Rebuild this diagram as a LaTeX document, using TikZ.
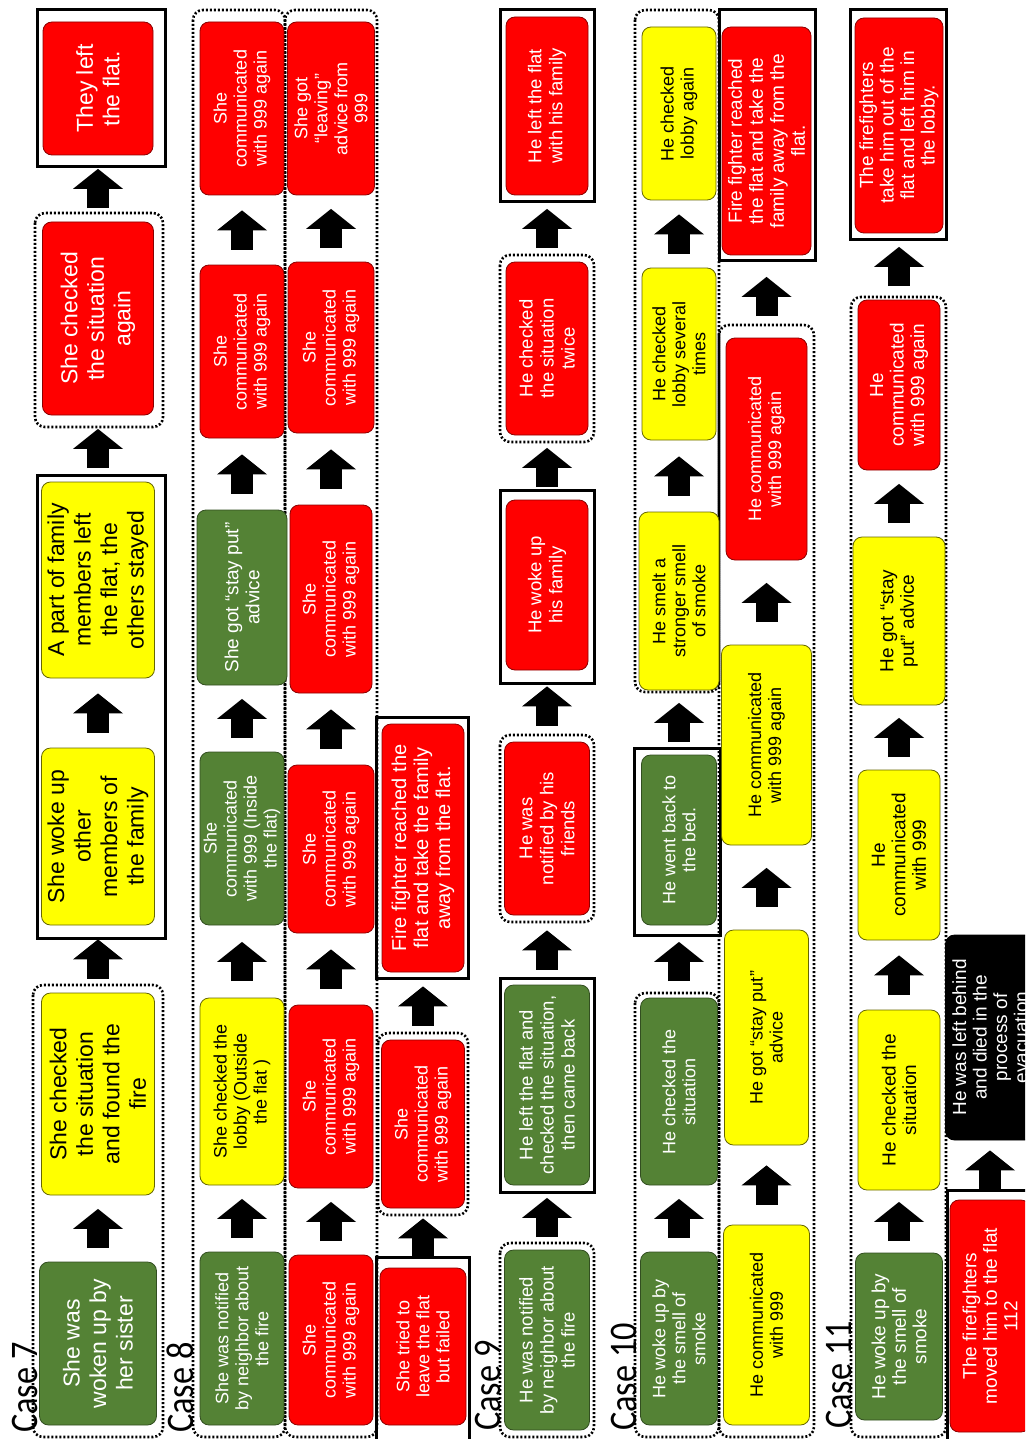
\documentclass[tikz,border=0pt]{standalone}
\usepackage{fontspec}
\setmainfont{Liberation Sans}
\newfontfamily\caseface{Carlito}[FakeStretch=0.88]
\usetikzlibrary{arrows.meta}
\definecolor{evred}{HTML}{FF0000}
\definecolor{evyel}{HTML}{FFFF00}
\definecolor{evgrn}{HTML}{548235}
\tikzset{
  ev/.style     = {rectangle, rounded corners=9pt, rotate=90, align=center,
                   inner sep=2pt, line width=0.8pt},
  redev/.style  = {ev, draw=evred!55!black, fill=evred, text=white},
  yelev/.style  = {ev, draw=evyel!40!black, fill=evyel, text=black},
  grnev/.style  = {ev, draw=evgrn!60!black, fill=evgrn, text=white},
  blkev/.style  = {ev, draw=black, fill=black, text=white},
  sz/.style 2 args = {minimum width=#1, minimum height=#2},
  t7/.style     = {font=\fontsize{23}{26.5}\selectfont},
  t8/.style     = {font=\fontsize{18}{20}\selectfont},
  t9/.style     = {font=\fontsize{18.5}{21}\selectfont},
  t10/.style    = {font=\fontsize{18}{20}\selectfont},
  t11/.style    = {font=\fontsize{19}{20.5}\selectfont},
  flow/.style   = {line width=22pt, draw=black,
                   -{Triangle[width=50pt 0 0, length=20pt 0 0, line width=0pt 0 0]},
                   shorten <=#1, shorten >=#1},
  flow/.default = 14,
  dotgrp/.style = {line width=2.6pt, dash pattern=on 2pt off 2pt, rounded corners=10pt},
  solgrp/.style = {line width=3pt},
  caselbl/.style= {rotate=90, anchor=base west, inner sep=0pt,
                   font=\caseface\fontsize{39}{39}\selectfont},
}

\begin{document}
\begin{tikzpicture}[x=1pt, y=-1pt]
  \useasboundingbox (0,0) rectangle (1025,1439);
  \fill[white] (0,0) rectangle (1025,1439);
  \clip (0,0) rectangle (1025,1439);

  % group frames
  \draw[dotgrp] (33,985)  rectangle (163,1437);
  \draw[solgrp] (37,475)  rectangle (165,938);
  \draw[dotgrp] (35,213)  rectangle (163,427);
  \draw[solgrp] (37,10)   rectangle (165,167);
  \draw[dotgrp] (193,10)  rectangle (285,1437);
  \draw[dotgrp] (285,10)  rectangle (377,1437);
  \draw[solgrp] (376,1257) rectangle (469,1450);
  \draw[dotgrp] (378,1033) rectangle (468,1215);
  \draw[solgrp] (376,717) rectangle (468,978);
  \draw[dotgrp] (500,1243) rectangle (594,1437);
  \draw[solgrp] (500,978) rectangle (594,1192);
  \draw[dotgrp] (500,735) rectangle (594,922);
  \draw[solgrp] (500,490) rectangle (594,683);
  \draw[dotgrp] (500,255) rectangle (594,442);
  \draw[solgrp] (500,10)  rectangle (594,202);
  \draw[dotgrp] (635,993) rectangle (719,1437);
  \draw[solgrp] (634,748) rectangle (720,935);
  \draw[dotgrp] (635,10)  rectangle (719,692);
  \draw[dotgrp] (719,325) rectangle (814,1437);
  \draw[solgrp] (719,10)  rectangle (815,260);
  \draw[dotgrp] (851,297) rectangle (946,1437);
  \draw[solgrp] (850,10)  rectangle (946,240);
  \draw[solgrp] (947,1190) rectangle (1040,1450);

  % case labels
  \node[caselbl] (lbl7)  at (37,1433)  {Case 7};
  \node[caselbl] (lbl8)  at (193,1433) {Case 8};
  \node[caselbl] (lbl9)  at (500,1431) {Case 9};
  \node[caselbl] (lbl10) at (636,1431) {Case 10};
  \node[caselbl] (lbl11) at (851,1429) {Case 11};

  % Case 7
  \node[grnev, t7, sz={163}{117}] (c7a) at (98,1343.5) {She was\\woken up by\\her sister};
  \node[yelev, t7, sz={202}{113}] (c7b) at (98,1094)   {She checked\\the situation\\and found the\\fire};
  \node[yelev, t7, sz={177}{113}] (c7c) at (98,836.5)  {She woke up\\other\\members of\\the family};
  \node[yelev, t7, sz={196}{113}] (c7d) at (98,580)    {A part of family\\members left\\the flat, the\\others stayed};
  \node[redev, t7, sz={193}{111}] (c7e) at (98,318.5)  {She checked\\the situation\\again};
  \node[redev, t7, sz={133}{110}] (c7f) at (98,88.5)   {They left\\the flat.};
  \draw[flow=13.5] (c7a) -- (c7b);
  \draw[flow=14]   (c7b) -- (c7c);
  \draw[flow=15]   (c7c) -- (c7d);
  \draw[flow=13.5] (c7d) -- (c7e);
  \draw[flow=13.5] (c7e) -- (c7f);

  % Case 8
  \node[grnev, t8, sz={173}{84}] (c8a1) at (242,1338.5) {She was notified\\by neighbor about\\the fire};
  \node[yelev, t8, sz={187}{84}] (c8a2) at (242,1091.5) {She checked the\\lobby (Outside\\the flat )};
  \node[grnev, t8, sz={173}{84}] (c8a3) at (242,838.5)  {She\\communicated\\with 999 (Inside\\the flat)};
  \node[grnev, t8, sz={175}{90}, font=\fontsize{19}{21}\selectfont] (c8a4) at (242,597.5) {She got “stay put”\\advice};
  \node[redev, t8, sz={173}{84}] (c8a5) at (242,351.5)  {She\\communicated\\with 999 again};
  \node[redev, t8, sz={173}{84}] (c8a6) at (242,108.5)  {She\\communicated\\with 999 again};
  \draw[flow=13.5] (c8a1) -- (c8a2);
  \draw[flow=16.5] (c8a2) -- (c8a3);
  \draw[flow=13.5] (c8a3) -- (c8a4);
  \draw[flow=16]   (c8a4) -- (c8a5);
  \draw[flow=15]   (c8a5) -- (c8a6);

  \node[redev, t8, sz={170}{84}] (c8b1) at (331,1340)   {She\\communicated\\with 999 again};
  \node[redev, t8, sz={183}{84}] (c8b2) at (331,1096.5) {She\\communicated\\with 999 again};
  \node[redev, t8, sz={168}{86}] (c8b3) at (331,849)    {She\\communicated\\with 999 again};
  \node[redev, t8, sz={188}{82}] (c8b4) at (331,599)    {She\\communicated\\with 999 again};
  \node[redev, t8, sz={171}{86}] (c8b5) at (331,347.5)  {She\\communicated\\with 999 again};
  \node[redev, t8, sz={173}{87}] (c8b6) at (331,108.5)  {She got\\“leaving”\\advice from\\999};
  \draw[flow=13.5] (c8b1) -- (c8b2);
  \draw[flow=16]   (c8b2) -- (c8b3);
  \draw[flow=16]   (c8b3) -- (c8b4);
  \draw[flow=16]   (c8b4) -- (c8b5);
  \draw[flow=13.5] (c8b5) -- (c8b6);

  \node[redev, t8, sz={157}{86}] (c8c1) at (423,1346.5) {She tried to\\leave the flat\\but failed};
  \node[redev, t8, sz={168}{83}] (c8c2) at (423,1124)   {She\\communicated\\with 999 again};
  \node[redev, sz={248}{82}, font=\fontsize{20}{22}\selectfont] (c8c3) at (423,848) {Fire fighter reached the\\flat and take the family\\away from the flat.};
  \draw[flow=10] (c8c1) -- (c8c2);
  \draw[flow=14] (c8c2) -- (c8c3);

  % Case 9
  \node[grnev, t9, sz={180}{85}] (c9a) at (547,1340)  {He was notified\\by neighbor about\\the fire};
  \node[grnev, t9, sz={200}{85}] (c9b) at (547,1085)  {He left the flat and\\checked the situation,\\then came back};
  \node[redev, t9, sz={173}{85}] (c9c) at (547,828.5) {He was\\notified by his\\friends};
  \node[redev, t9, sz={170}{82}] (c9d) at (547,585)   {He woke up\\his family};
  \node[redev, t9, sz={173}{82}] (c9e) at (547,348.5) {He checked\\the situation\\twice};
  \node[redev, t9, sz={178}{82}] (c9f) at (547,106)   {He left the flat\\with his family};
  \draw[flow=12.5] (c9a) -- (c9b);
  \draw[flow=15]   (c9b) -- (c9c);
  \draw[flow=16]   (c9c) -- (c9d);
  \draw[flow=12.5] (c9d) -- (c9e);
  \draw[flow=13.5] (c9e) -- (c9f);

  % Case 10
  \node[grnev, t10, sz={173}{77}] (c10a1) at (679,1338.5) {He woke up by\\the smell of\\smoke};
  \node[grnev, t10, sz={187}{77}] (c10a2) at (679,1091.5) {He checked the\\situation};
  \node[grnev, t10, sz={170}{75}] (c10a3) at (679,840)    {He went back to\\the bed.};
  \node[yelev, t10, sz={178}{80}] (c10a4) at (679,601)    {He smelt a\\stronger smell\\of smoke};
  \node[yelev, t10, sz={172}{74}] (c10a5) at (679,354)    {He checked\\lobby several\\times};
  \node[yelev, t10, sz={173}{74}] (c10a6) at (679,113.5)  {He checked\\lobby again};
  \draw[flow=13.5] (c10a1) -- (c10a2);
  \draw[flow=16.5] (c10a2) -- (c10a3);
  \draw[flow=12.5] (c10a3) -- (c10a4);
  \draw[flow=16]   (c10a4) -- (c10a5);
  \draw[flow=14]   (c10a5) -- (c10a6);

  \node[yelev, t10, sz={200}{86}] (c10b1) at (766.5,1325)   {He communicated\\with 999};
  \node[yelev, t10, sz={215}{84}] (c10b2) at (766.5,1037.5) {He got “stay put”\\advice};
  \node[yelev, t10, sz={200}{90}] (c10b3) at (766.5,745)    {He communicated\\with 999 again};
  \node[redev, t10, sz={222}{81}] (c10b4) at (766.5,449)    {He communicated\\with 999 again};
  \node[redev, sz={228}{89}, font=\fontsize{19}{21}\selectfont] (c10b5) at (766.5,141) {Fire fighter reached\\the flat and take the\\family away from the\\flat.};
  \draw[flow=20]   (c10b1) -- (c10b2);
  \draw[flow=22.5] (c10b2) -- (c10b3);
  \draw[flow=22.5] (c10b3) -- (c10b4);
  \draw[flow=21.5] (c10b4) -- (c10b5);

  % Case 11
  \node[grnev, t11, sz={167}{87}] (c11a1) at (899,1336.5) {He woke up by\\the smell of\\smoke};
  \node[yelev, t11, sz={180}{82}] (c11a2) at (899,1100)   {He checked the\\situation};
  \node[yelev, t11, sz={170}{82}] (c11a3) at (899,855)    {He\\communicated\\with 999};
  \node[yelev, t11, sz={168}{92}] (c11a4) at (899,621)    {He got “stay\\put” advice};
  \node[redev, t11, sz={170}{82}] (c11a5) at (899,385)    {He\\communicated\\with 999 again};
  \node[redev, t11, sz={215}{88}] (c11a6) at (899,125.5)  {The firefighters\\take him out of the\\flat and left him in\\the lobby.};
  \draw[flow=11.5] (c11a1) -- (c11a2);
  \draw[flow=15]   (c11a2) -- (c11a3);
  \draw[flow=12.5] (c11a3) -- (c11a4);
  \draw[flow=13.5] (c11a4) -- (c11a5);
  \draw[flow=13.5] (c11a5) -- (c11a6);

  \node[redev, t11, sz={232}{80}] (c11b1) at (990,1316)   {The firefighters\\moved him to the flat\\112};
  \node[blkev, t11, sz={205}{89}] (c11b2) at (990,1037.5) {He was left behind\\and died in the\\process of\\evacuation};
  \draw[flow=10] (c11b1) -- (c11b2);
\end{tikzpicture}
\end{document}
